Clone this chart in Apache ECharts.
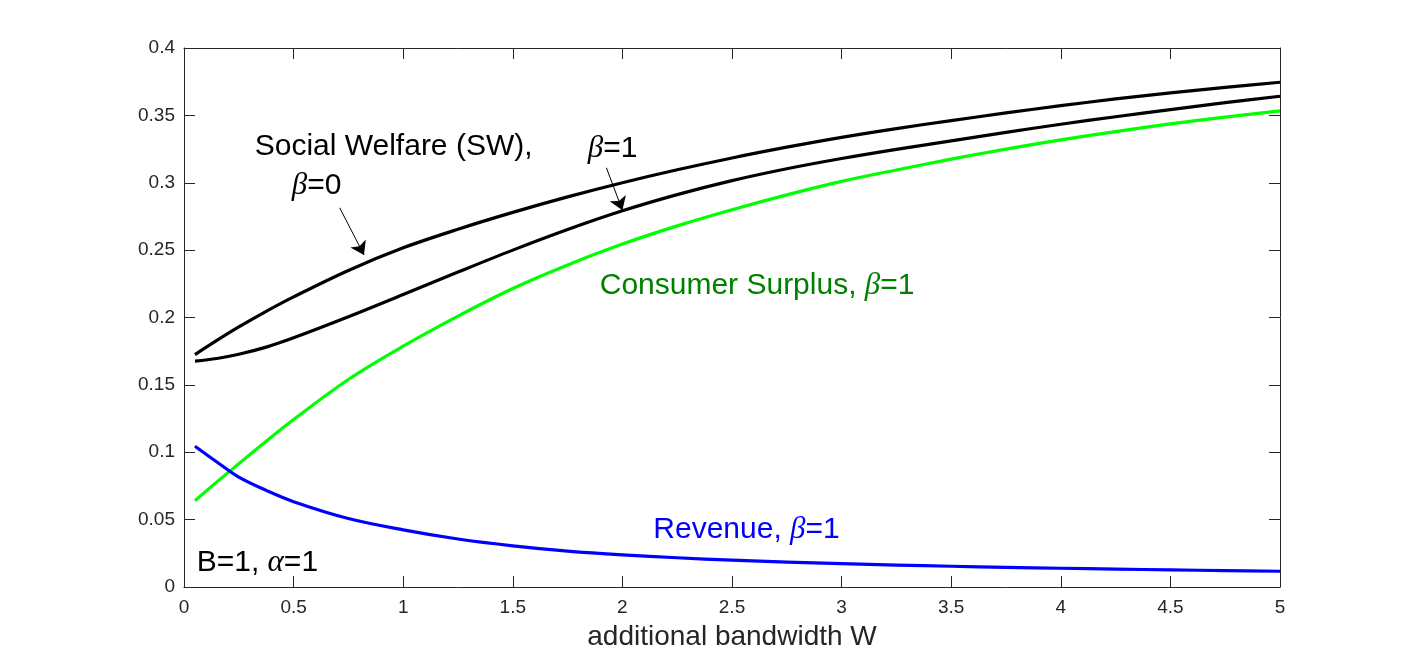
<!DOCTYPE html>
<html>
<head>
<meta charset="utf-8">
<title>Social welfare vs additional bandwidth</title>
<script src="https://cdn.jsdelivr.net/npm/echarts@6/dist/echarts.min.js"></script>
<style>
  html, body { margin: 0; padding: 0; background: #fff; }
  #chart { width: 1414px; height: 660px; }
</style>
</head>
<body>
<div id="chart"></div>
<script>
// additional bandwidth W
const W = [0.05, 0.15, 0.25, 0.375, 0.5, 0.75, 1, 1.25, 1.5, 1.75, 2, 2.25, 2.5, 2.75, 3, 3.25, 3.5, 3.75, 4, 4.25, 4.5, 4.75, 5];
// social welfare, beta = 0
const swBeta0 = [0.1725, 0.1830, 0.1930, 0.2046, 0.2153, 0.2349, 0.2517, 0.2655, 0.2780, 0.2895, 0.3000, 0.3096, 0.3184, 0.3264, 0.3337, 0.3402, 0.3461, 0.3518, 0.3572, 0.3622, 0.3667, 0.3708, 0.3746];
// social welfare, beta = 1
const swBeta1 = [0.1676, 0.1696, 0.1727, 0.1780, 0.1849, 0.2005, 0.2170, 0.2337, 0.2500, 0.2653, 0.2792, 0.2912, 0.3016, 0.3104, 0.3180, 0.3248, 0.3311, 0.3374, 0.3434, 0.3490, 0.3543, 0.3594, 0.3642];
// consumer surplus, beta = 1
const consumerSurplus = [0.0640, 0.0780, 0.0915, 0.1082, 0.1243, 0.1540, 0.1787, 0.2010, 0.2215, 0.2390, 0.2545, 0.2680, 0.2800, 0.2910, 0.3010, 0.3095, 0.3175, 0.3250, 0.3318, 0.3380, 0.3437, 0.3487, 0.3533];
// revenue, beta = 1
const revenue = [0.1045, 0.0928, 0.0815, 0.0717, 0.0633, 0.0508, 0.0424, 0.0356, 0.0305, 0.0266, 0.0238, 0.0217, 0.0199, 0.0185, 0.0173, 0.0163, 0.0154, 0.0146, 0.0139, 0.0133, 0.0127, 0.0122, 0.0117];

const SANS = "'Liberation Sans', Arial, Helvetica, sans-serif";
const SERIF = "'Liberation Serif', 'Times New Roman', serif";
const AXIS = '#262626';

const pairs = (ys) => W.map((w, i) => [w, ys[i]]);

const chartDom = document.getElementById('chart');
const myChart = echarts.init(chartDom);

// axes drawn as a closed box, ticks pointing inwards
const boxAxis = (extra) => Object.assign({
    type: 'value',
    axisLine: { show: true, onZero: false, lineStyle: { color: AXIS, width: 1 } },
    axisTick: { show: true, inside: true, length: 11, lineStyle: { color: AXIS, width: 1 } },
    splitLine: { show: false },
    axisLabel: { show: false }
}, extra);

const lineSeries = (name, ys, color) => ({
    name: name,
    type: 'line',
    data: pairs(ys),
    showSymbol: false,
    smooth: 0.35,
    lineStyle: { color: color, width: 3.2, join: 'round', cap: 'butt' },
    itemStyle: { color: color },
    emphasis: { disabled: true }
});

const option = {
    animation: false,
    backgroundColor: '#fff',
    grid: { left: 184, right: 134, top: 48, bottom: 73, outerBoundsMode: 'none' },
    xAxis: [
        boxAxis({
            position: 'bottom', min: 0, max: 5, interval: 0.5,
            axisLabel: { show: true, color: AXIS, fontSize: 19, fontFamily: SANS, margin: 11 },
            name: 'additional bandwidth W',
            nameLocation: 'middle',
            nameGap: 36,
            nameTextStyle: { color: AXIS, fontSize: 28, fontFamily: SANS }
        }),
        boxAxis({ position: 'top', min: 0, max: 5, interval: 0.5 })
    ],
    yAxis: [
        boxAxis({
            position: 'left', min: 0, max: 0.4, interval: 0.05,
            axisLabel: { show: true, color: AXIS, fontSize: 19, fontFamily: SANS, margin: 9 }
        }),
        boxAxis({ position: 'right', min: 0, max: 0.4, interval: 0.05 })
    ],
    series: [
        Object.assign(lineSeries('Social Welfare (SW), β=0', swBeta0, '#000000'), {
            markLine: {
                silent: true,
                symbol: ['none', 'arrow'],
                symbolSize: 13,
                label: { show: false },
                lineStyle: { color: '#000', width: 1, type: 'solid' },
                data: [
                    [{ coord: [0.7103, 0.2814] }, { coord: [0.8212, 0.2464] }],
                    [{ coord: [1.9269, 0.3111] }, { coord: [2.0000, 0.2796] }]
                ]
            }
        }),
        lineSeries('Social Welfare (SW), β=1', swBeta1, '#000000'),
        lineSeries('Consumer Surplus, β=1', consumerSurplus, '#00ff00'),
        lineSeries('Revenue, β=1', revenue, '#0000ff')
    ]
};

myChart.setOption(option);

// text annotations, anchored in data coordinates (left edge, vertical middle)
const rich = (color) => ({
    s: { fontFamily: SANS, fontSize: 30, fill: color },
    g: { fontFamily: SERIF, fontStyle: 'italic', fontSize: 31, fill: color }
});
const notes = [
    { at: [0.3225, 0.3267], text: '{s|Social Welfare (SW),}', color: '#000000' },
    { at: [0.4913, 0.2977], text: '{g|β}{s|=0}', color: '#000000' },
    { at: [1.8418, 0.3255], text: '{g|β}{s|=1}', color: '#000000' },
    { at: [1.8965, 0.2237], text: '{s|Consumer Surplus, }{g|β}{s|=1}', color: '#008000' },
    { at: [2.1410, 0.0422], text: '{s|Revenue, }{g|β}{s|=1}', color: '#0000ff' },
    { at: [0.0580, 0.0180], text: '{s|B=1, }{g|α}{s|=1}', color: '#000000' }
];

myChart.setOption({
    graphic: notes.map(n => {
        const p = myChart.convertToPixel({ xAxisIndex: 0, yAxisIndex: 0 }, n.at);
        return {
            type: 'text',
            x: p[0],
            y: p[1],
            silent: true,
            style: {
                text: n.text,
                rich: rich(n.color),
                align: 'left',
                verticalAlign: 'middle'
            }
        };
    })
});

window.addEventListener('resize', () => {
    myChart.resize();
});
</script>
</body>
</html>
